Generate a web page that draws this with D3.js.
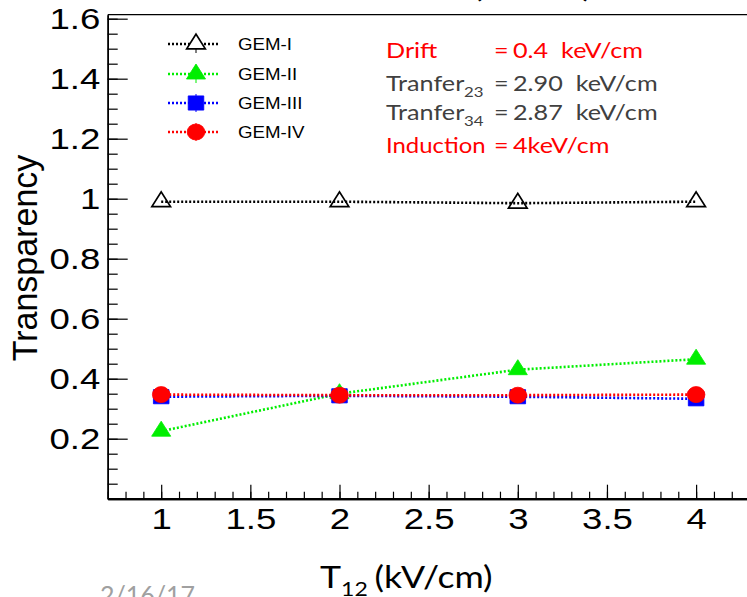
<!DOCTYPE html>
<html>
<head>
<meta charset="utf-8">
<script src="https://cdn.jsdelivr.net/npm/d3@7"></script>
<style>
  html, body { margin: 0; padding: 0; background: #fff; }
  svg { display: block; }
  text { white-space: pre; }
  .ax text { font-family: "Liberation Sans", Arial, Helvetica, sans-serif; }
</style>
</head>
<body>
<svg id="chart" width="747" height="597"></svg>
<script>
// Transparency of each GEM foil versus the transfer field T12
const fieldT12 = [1, 2, 3, 4];
const gemI   = [0.99, 0.99, 0.985, 0.99];
const gemII  = [0.225, 0.35, 0.43, 0.465];
const gemIII = [0.34, 0.343, 0.34, 0.333];
const gemIV  = [0.347, 0.345, 0.345, 0.347];

const seriesNames = ["GEM-I", "GEM-II", "GEM-III", "GEM-IV"];
const xTickValues = [1, 1.5, 2, 2.5, 3, 3.5, 4];
const yTickValues = [0.2, 0.4, 0.6, 0.8, 1.0, 1.2, 1.4, 1.6];

const svg = d3.select("#chart");
const W = 747, H = 597;
const SX = 1.22;   // the whole figure is drawn horizontally widened

const x = d3.scaleLinear().domain([0.7, 4.3]).range([107.7, 749.6]);
const y = d3.scaleLinear().domain([0, 1.6133]).range([498.7, 14.7]);

const fmt = d => String(+d.toFixed(2));

// frame: top line extends off to the right
svg.append("line")
  .attr("x1", x(0.7)).attr("x2", W + 5)
  .attr("y1", y(1.6133)).attr("y2", y(1.6133))
  .attr("stroke", "#000").attr("stroke-width", 1.2);

// y axis: major ticks with labels, minor ticks every 0.05
const yMinor = d3.range(0, 1.6133, 0.05).map(v => +v.toFixed(2));
const gyMinor = svg.append("g").attr("class", "ax")
  .attr("transform", `translate(${x(0.7)},0)`)
  .call(d3.axisLeft(y).tickValues(yMinor).tickSizeInner(-10).tickSizeOuter(0).tickFormat(""));
const gy = svg.append("g").attr("class", "ax")
  .attr("transform", `translate(${x(0.7)},0)`)
  .call(d3.axisLeft(y).tickValues(yTickValues).tickSizeInner(-20).tickSizeOuter(0)
        .tickPadding(6).tickFormat(fmt));
gy.selectAll("text").attr("font-size", 30).attr("fill", "#000")
  .attr("transform", `scale(${SX},1)`);
[gy, gyMinor].forEach(g => {
  g.select(".domain").attr("stroke", "#000").attr("stroke-width", 1.5);
  g.selectAll(".tick line").attr("stroke", "#000").attr("stroke-width", 1.2);
});

// x axis: major ticks every 0.5, minor every 0.1
const xMinor = d3.range(0.7, 4.31, 0.1).map(v => +v.toFixed(2));
const gxMinor = svg.append("g").attr("class", "ax")
  .attr("transform", `translate(0,${y(0)})`)
  .call(d3.axisBottom(x).tickValues(xMinor).tickSizeInner(-7).tickSizeOuter(0).tickFormat(""));
const gx = svg.append("g").attr("class", "ax")
  .attr("transform", `translate(0,${y(0)})`)
  .call(d3.axisBottom(x).tickValues(xTickValues).tickSizeInner(-14).tickSizeOuter(0)
        .tickPadding(9).tickFormat(fmt));
gx.selectAll("text").attr("font-size", 30).attr("fill", "#000")
  .attr("transform", `scale(${SX},1)`);
[gx, gxMinor].forEach(g => {
  g.select(".domain").attr("stroke", "#000").attr("stroke-width", 2.2);
  g.selectAll(".tick line").attr("stroke", "#000").attr("stroke-width", 1.2);
});

// series styles
const styles = [
  { name: seriesNames[0], values: gemI,   color: "#000000", shape: d3.symbolTriangle, size: 125, fill: "none" },
  { name: seriesNames[1], values: gemII,  color: "#00ee00", shape: d3.symbolTriangle, size: 130, fill: "#00ee00" },
  { name: seriesNames[2], values: gemIII, color: "#0000ff", shape: d3.symbolSquare,   size: 200, fill: "#0000ff" },
  { name: seriesNames[3], values: gemIV,  color: "#ff0000", shape: d3.symbolCircle,   size: 200, fill: "#ff0000" }
];

const line = d3.line().x(d => x(d[0])).y(d => y(d[1]));

styles.forEach(s => {
  const pts = fieldT12.map((t, i) => [t, s.values[i]]);
  const g = svg.append("g");
  g.append("path")
    .attr("d", line(pts))
    .attr("fill", "none")
    .attr("stroke", s.color)
    .attr("stroke-width", 2.6)
    .attr("stroke-dasharray", "2,2");
  g.selectAll("path.m").data(pts).join("path")
    .attr("class", "m")
    .attr("transform", d => `translate(${x(d[0])},${y(d[1])}) scale(1.1,1)`)
    .attr("d", d3.symbol().type(s.shape).size(s.size))
    .attr("fill", s.fill)
    .attr("stroke", s.color)
    .attr("stroke-width", s.fill === "none" ? 1.6 : 0.8);
});

// legend
const legY = [44, 74, 103, 132];
styles.forEach((s, i) => {
  const g = svg.append("g").attr("transform", `translate(0,${legY[i]})`);
  g.append("line").attr("x1", 168).attr("x2", 218).attr("y1", 0).attr("y2", 0)
    .attr("stroke", s.color).attr("stroke-width", 2.4).attr("stroke-dasharray", "2,2");
  g.append("line").attr("x1", 196).attr("x2", 196).attr("y1", -9).attr("y2", 9)
    .attr("stroke", s.color).attr("stroke-width", 1);
  g.append("path")
    .attr("transform", "translate(196,0) scale(1.1,1)")
    .attr("d", d3.symbol().type(s.shape).size(s.size))
    .attr("fill", s.fill === "none" ? "#fff" : s.fill)
    .attr("stroke", s.color)
    .attr("stroke-width", s.fill === "none" ? 1.6 : 0.8);
  g.append("text")
    .attr("transform", "translate(238,6) scale(1.1,1)")
    .attr("font-family", "Liberation Sans, Arial, sans-serif")
    .attr("font-size", 17).attr("fill", "#000")
    .text(s.name);
});

// field settings annotation
const noteFont = "Lato, 'Open Sans', sans-serif";
const NS = 1.2;
const notes = [
  { y: 58,  color: "#ff0000", label: "Drift",      sub: "",   value: "0.4  keV/cm" },
  { y: 91,  color: "#404040", label: "Tranfer",    sub: "23", value: "2.90  keV/cm" },
  { y: 120, color: "#404040", label: "Tranfer",    sub: "34", value: "2.87  keV/cm" },
  { y: 153, color: "#ff0000", label: "Induction",  sub: "",   value: "4keV/cm" }
];
function noteText(tx, ty, size, color, str, sx) {
  return svg.append("text")
    .attr("transform", `translate(${tx},${ty}) scale(${sx || NS},1)`)
    .attr("font-family", noteFont).attr("font-size", size).attr("fill", color)
    .text(str);
}
notes.forEach(n => {
  noteText(386, n.y, 21, n.color, n.label, n.label === "Induction" ? 1.14 : NS);
  if (n.sub) noteText(464, n.y + 6, 14, n.color, n.sub);
  noteText(494, n.y, 21, n.color, "=");
  noteText(513, n.y, 21, n.color, n.value);
});

// axis titles
svg.append("text")
  .attr("transform", `translate(37,258) scale(1.05,1) rotate(-90)`)
  .attr("text-anchor", "middle")
  .attr("font-family", "Liberation Sans, Arial, sans-serif")
  .attr("font-size", 34).attr("fill", "#000")
  .text("Transparency");

const xt = svg.append("text")
  .attr("transform", `translate(320,588) scale(1.15,1)`)
  .attr("font-family", noteFont).attr("font-size", 31).attr("fill", "#000");
xt.append("tspan").text("T");
xt.append("tspan").attr("dy", 8).attr("font-size", 20).text("12");
xt.append("tspan").attr("dy", -8).attr("dx", 6).text("(kV/cm)");

// title above the frame (only its lower edge falls inside the page)
svg.append("text")
  .attr("transform", `translate(592,-3) scale(1.2,1)`)
  .attr("text-anchor", "end")
  .attr("font-family", noteFont).attr("font-size", 30).attr("fill", "#000")
  .text("(kV/cm)");

// date footer, partly below the page
svg.append("text")
  .attr("x", 100).attr("y", 604)
  .attr("font-family", noteFont).attr("font-size", 25).attr("fill", "#a0a0a0")
  .text("2/16/17");
</script>
</body>
</html>
